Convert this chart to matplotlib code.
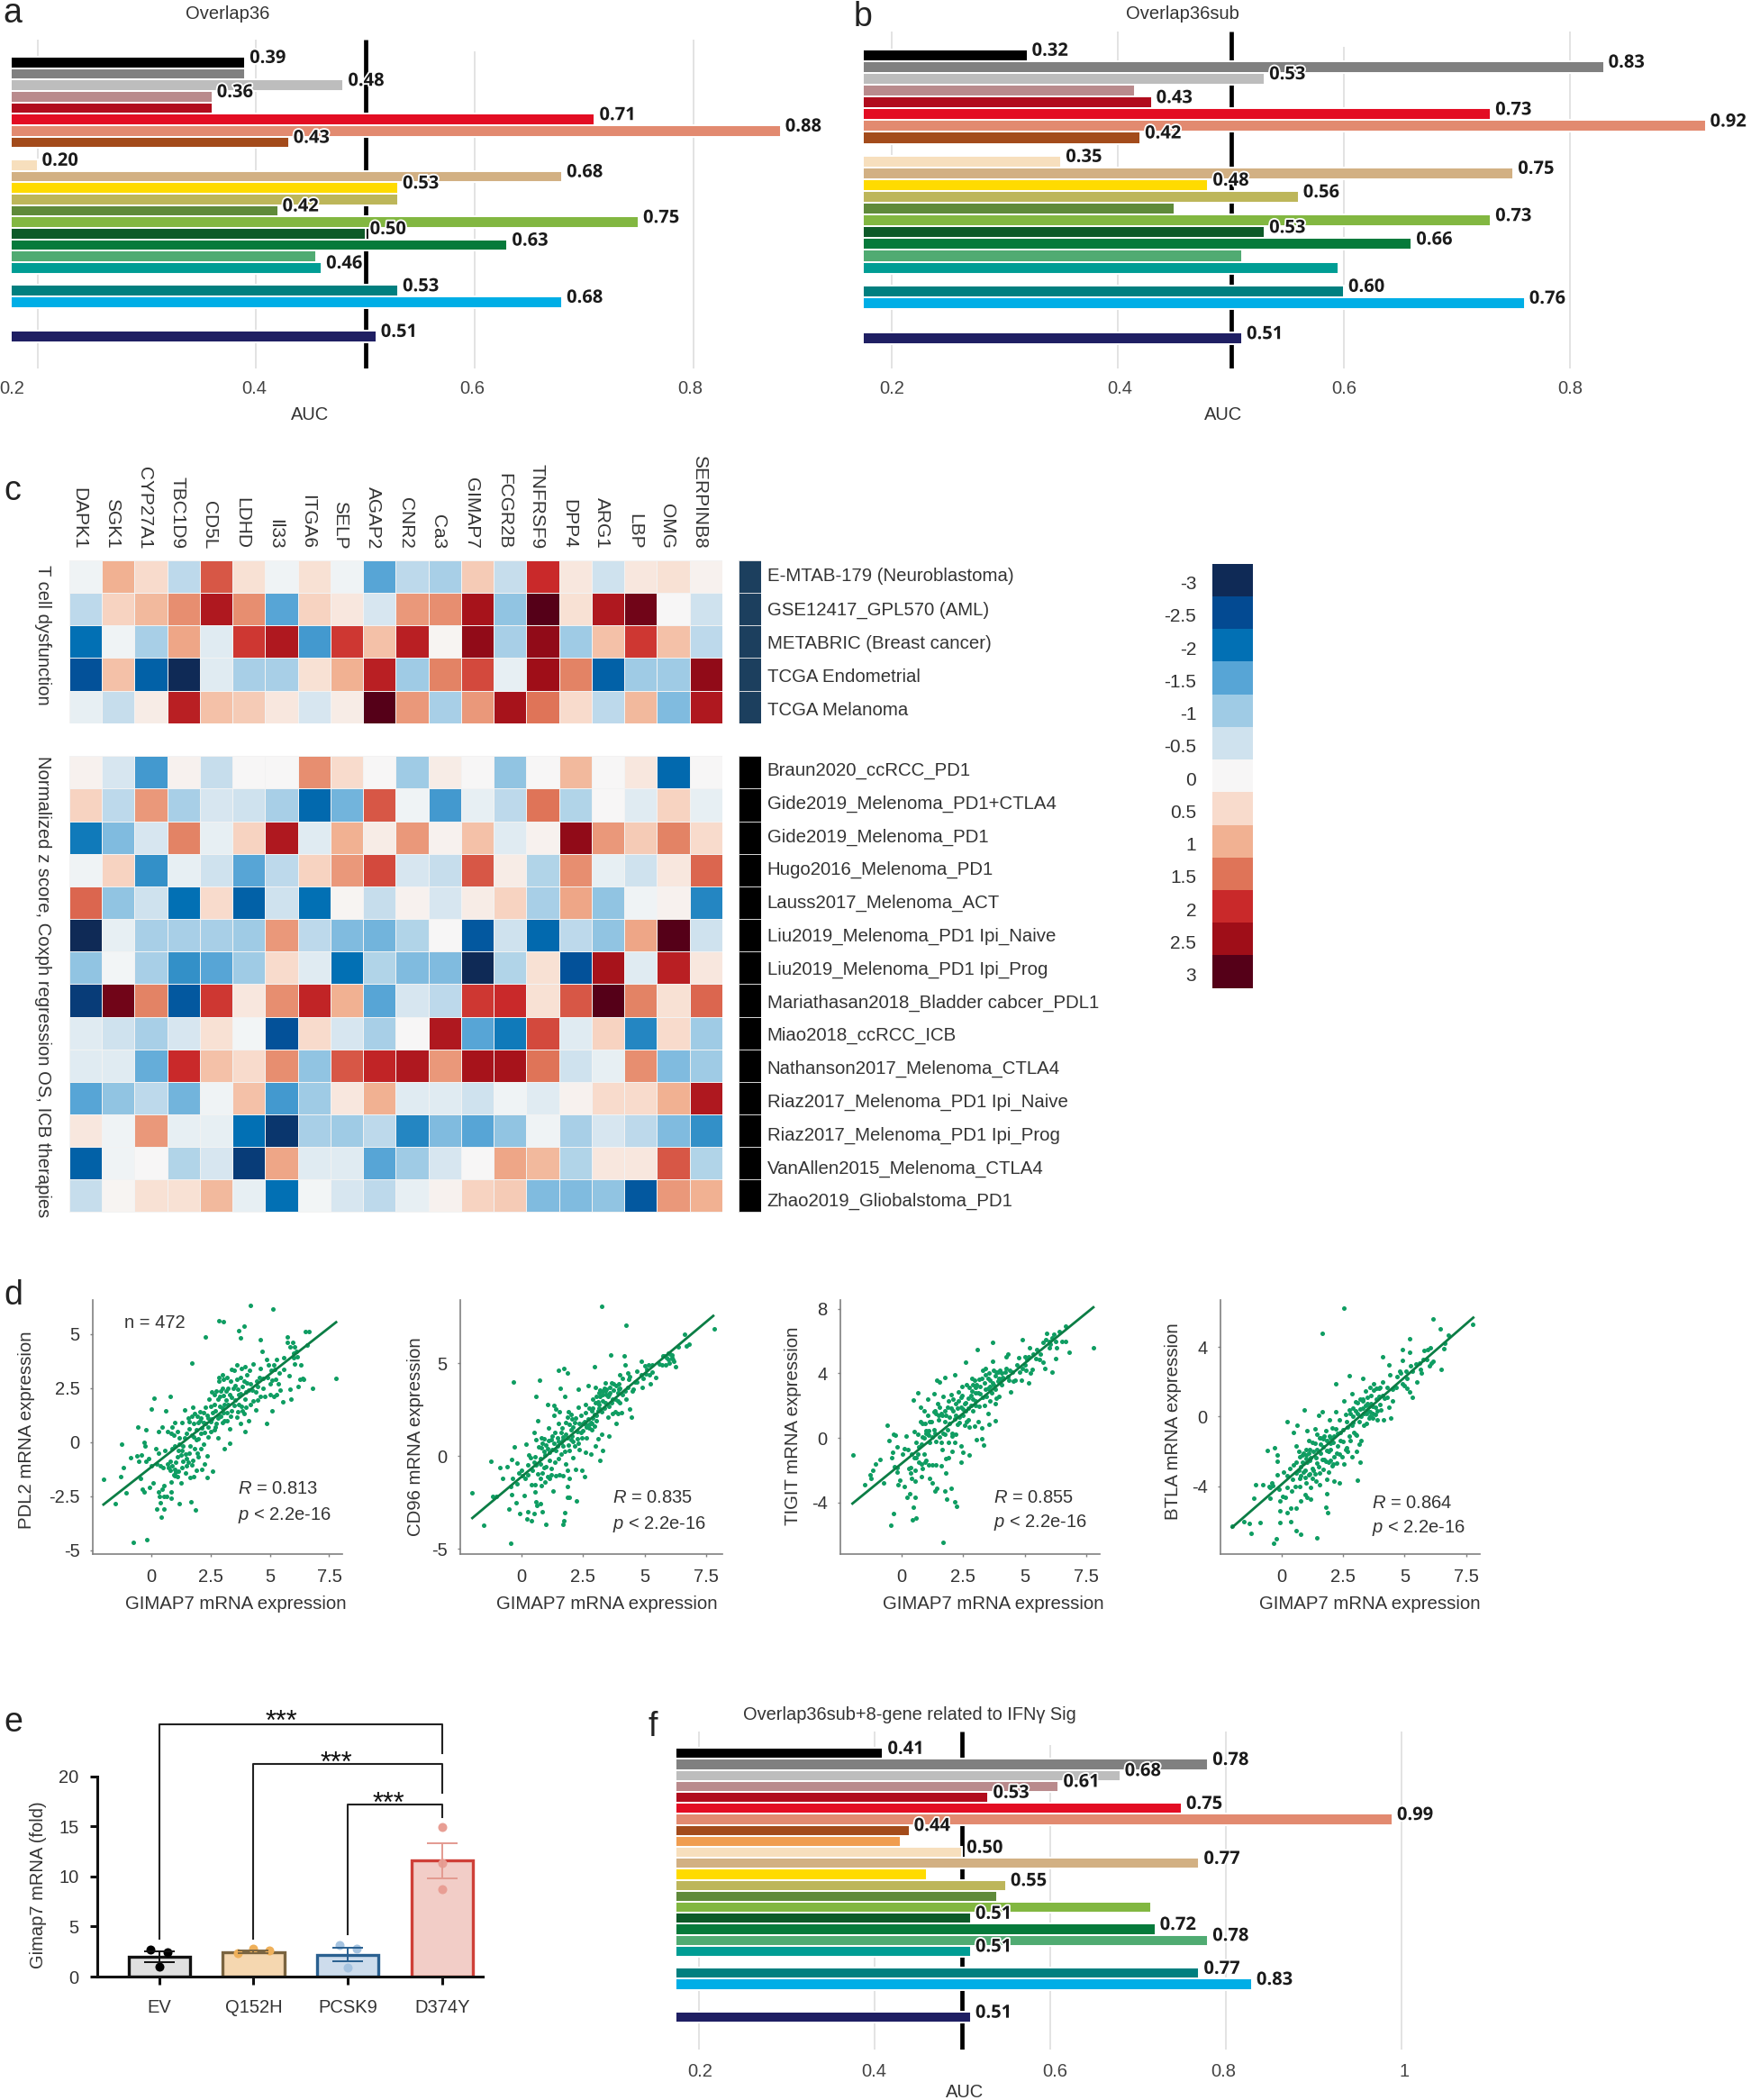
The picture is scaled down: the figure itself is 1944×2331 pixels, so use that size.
import numpy as np
import matplotlib
matplotlib.use('Agg')
import matplotlib.pyplot as plt
import matplotlib.patheffects as pe
from matplotlib.colors import LinearSegmentedColormap
from matplotlib.transforms import ScaledTranslation

plt.rcParams['font.family'] = ['Liberation Sans', 'DejaVu Sans']
plt.rcParams['mathtext.fontset'] = 'custom'
plt.rcParams['mathtext.it'] = 'Liberation Sans:italic'
plt.rcParams['mathtext.rm'] = 'Liberation Sans'

W, H = 1944, 2331
TXT = '#333333'

# AUC bars
rows_ab = [0, 1, 2, 3, 4, 5, 6, 7, 9, 10, 11, 12, 13, 14, 15, 16, 17, 18, 20, 21, 24]
rows_f = list(range(19)) + [20, 21, 24]
colors_ab = ['#000000', '#808080', '#bdbdbd', '#b98a8c', '#b10c1d', '#e30d23', '#e28a70', '#a34b1b',
             '#f7dfbd', '#d2b083', '#ffdb00', '#bdb65a', '#5f8a3a', '#82b741', '#0d5a28', '#067a3b',
             '#50ab72', '#009d94', '#007f7f', '#00aee6', '#1f1f63']
colors_f = colors_ab[:8] + ['#f09d50'] + colors_ab[8:]

auc_a = [0.39, 0.39, 0.48, 0.36, 0.36, 0.71, 0.88, 0.43, 0.20, 0.68, 0.53, 0.53, 0.42, 0.75, 0.50, 0.63,
         0.455, 0.46, 0.53, 0.68, 0.51]
labels_a = ['0.39', None, '0.48', '0.36', None, '0.71', '0.88', '0.43', '0.20', '0.68', '0.53', None, '0.42',
            '0.75', '0.50', '0.63', None, '0.46', '0.53', '0.68', '0.51']
auc_b = [0.32, 0.83, 0.53, 0.415, 0.43, 0.73, 0.92, 0.42, 0.35, 0.75, 0.48, 0.56, 0.45, 0.73, 0.53, 0.66,
         0.51, 0.595, 0.60, 0.76, 0.51]
labels_b = ['0.32', '0.83', '0.53', None, '0.43', '0.73', '0.92', '0.42', '0.35', '0.75', '0.48', '0.56', None,
            '0.73', '0.53', '0.66', None, None, '0.60', '0.76', '0.51']
auc_f = [0.41, 0.78, 0.68, 0.61, 0.53, 0.75, 0.99, 0.44, 0.43, 0.50, 0.77, 0.46, 0.55, 0.54, 0.715, 0.51,
         0.72, 0.78, 0.51, 0.77, 0.83, 0.51]
labels_f = ['0.41', '0.78', '0.68', '0.61', '0.53', '0.75', '0.99', '0.44', None, '0.50', '0.77', None, '0.55',
            None, None, '0.51', '0.72', '0.78', '0.51', '0.77', '0.83', '0.51']

# heatmap
genes = ['DAPK1', 'SGK1', 'CYP27A1', 'TBC1D9', 'CD5L', 'LDHD', 'Il33', 'ITGA6', 'SELP', 'AGAP2', 'CNR2', 'Ca3',
         'GIMAP7', 'FCGR2B', 'TNFRSF9', 'DPP4', 'ARG1', 'LBP', 'OMG', 'SERPINB8']
sets_top = ['E-MTAB-179 (Neuroblastoma)', 'GSE12417_GPL570 (AML)', 'METABRIC (Breast cancer)', 'TCGA Endometrial',
            'TCGA Melanoma']
sets_low = ['Braun2020_ccRCC_PD1', 'Gide2019_Melenoma_PD1+CTLA4', 'Gide2019_Melenoma_PD1', 'Hugo2016_Melenoma_PD1',
            'Lauss2017_Melenoma_ACT', 'Liu2019_Melenoma_PD1 Ipi_Naive', 'Liu2019_Melenoma_PD1 Ipi_Prog',
            'Mariathasan2018_Bladder cabcer_PDL1', 'Miao2018_ccRCC_ICB', 'Nathanson2017_Melenoma_CTLA4',
            'Riaz2017_Melenoma_PD1 Ipi_Naive', 'Riaz2017_Melenoma_PD1 Ipi_Prog', 'VanAllen2015_Melenoma_CTLA4',
            'Zhao2019_Gliobalstoma_PD1']
heat_top = [
    [-0.1, 1.0, 0.5, -0.7, 1.7, 0.4, -0.1, 0.4, -0.1, -1.5, -0.7, -0.9, 0.7, -0.6, 2.0, 0.3, -0.5, 0.3, 0.4, 0.1],
    [-0.7, 0.6, 0.9, 1.3, 2.3, 1.3, -1.5, 0.6, 0.3, -0.4, 1.2, 1.3, 2.4, -1.1, 3.0, 0.4, 2.3, 2.8, 0.0, -0.5],
    [-2.0, -0.1, -0.9, 1.1, -0.3, 1.9, 2.3, -1.6, 1.9, 0.8, 2.2, 0.05, 2.6, -0.9, 2.6, -1.0, 0.8, 1.9, 0.8, -0.7],
    [-2.4, 0.8, -2.2, -3.0, -0.3, -0.9, -0.9, 0.4, 1.0, 2.2, -1.0, 1.4, 1.8, -0.2, 2.5, 1.4, -2.2, -1.0, -1.0, 2.6],
    [-0.2, -0.6, 0.2, 2.2, 0.8, 0.7, 0.3, -0.4, 0.2, 3.0, 1.2, -0.9, 1.2, 2.4, 1.5, 0.5, -0.7, 0.9, -1.2, 2.3],
]
heat_low = [
    [0.1, -0.4, -1.6, 0.1, -0.6, 0, 0, 1.3, 0.5, 0, -1.0, 0.2, 0, -1.1, 0, 0.9, 0, 0.3, -2.1, 0],
    [0.6, -0.7, 1.2, -0.9, -0.4, -0.5, -0.9, -2.1, -1.3, 1.7, -0.1, -1.6, -0.2, -0.7, 1.5, -0.8, 0, -0.3, 0.6, -0.2],
    [-1.9, -1.2, -0.4, 1.4, -0.2, 0.6, 2.3, -0.3, 1.0, 0.2, 1.2, 0.1, 0.8, -0.3, 0.1, 2.6, 1.2, 0.7, 1.4, 0.5],
    [-0.1, 0.6, -1.7, -0.2, -0.5, -1.5, -0.7, 0.6, 1.2, 1.8, -0.4, -0.6, 1.7, 0.2, -0.8, 1.3, -0.2, -0.5, 0.3, 1.6],
    [1.6, -1.1, -0.5, -2.0, 0.5, -2.2, -0.5, -2.0, 0.05, -0.6, 0.1, -0.4, 0.2, 0.6, -0.9, 1.1, -1.1, -0.1, 0.1, -1.8],
    [-3.0, -0.2, -0.9, -0.9, -0.9, -1.0, 1.2, -0.7, -1.2, -1.3, -0.8, 0, -2.3, -0.5, -2.1, -0.7, -1.1, 1.1, 3.0, -0.5],
    [-1.1, -0.05, -0.9, -1.7, -1.5, -1.0, 0.5, -0.3, -2.0, -0.8, -1.2, -1.2, -3.0, -0.8, 0.4, -2.4, 2.4, -0.3, 2.2, 0.3],
    [-2.7, 2.8, 1.4, -2.3, 1.9, 0.3, 1.3, 2.1, 1.0, -1.5, -0.4, -0.7, 1.9, 2.0, 0.4, 1.7, 3.0, 1.4, 0.4, 1.6],
    [-0.3, -0.5, -0.9, -0.4, 0.4, -0.05, -2.4, 0.5, -0.4, -0.9, 0, 2.3, -1.5, -1.9, 1.8, -0.3, 0.6, -1.8, 0.5, -1.0],
    [-0.3, -0.3, -1.4, 2.0, 0.8, 0.5, 1.3, -1.1, 1.7, 2.1, 2.3, 1.2, 2.4, 2.4, 1.5, -0.5, -0.2, 1.3, -1.2, -1.0],
    [-1.5, -1.1, -0.7, -1.3, -0.1, 0.8, -1.6, -1.0, 0.3, 1.0, -0.3, -0.3, -0.5, -0.1, -0.3, 0.1, 0.5, 0.5, 1.0, 2.3],
    [0.3, -0.1, 1.2, -0.2, -0.2, -2.0, -2.8, -0.9, -1.0, -0.7, -1.8, -1.2, -1.5, -1.1, -0.1, -0.9, -0.4, -0.7, -1.2, -1.7],
    [-2.2, -0.1, 0, -0.8, -0.4, -2.7, 1.1, -0.3, -0.3, -1.5, -1.0, -0.4, 0, 1.1, 0.9, -0.8, 0.3, 0.3, 1.7, -0.8],
    [-0.6, 0.05, 0.4, 0.4, 0.9, -0.2, -2.0, -0.05, -0.4, -0.7, -0.2, 0.1, 0.6, 0.7, -1.2, -1.2, -1.1, -2.3, 1.2, 1.0],
]
scale_levels = [-3, -2.5, -2, -1.5, -1, -0.5, 0, 0.5, 1, 1.5, 2, 2.5, 3]
scale_labels = ['-3', '-2.5', '-2', '-1.5', '-1', '-0.5', '0', '0.5', '1', '1.5', '2', '2.5', '3']
scale_colors = ['#0f2a56', '#034a93', '#0271b5', '#56a5d6', '#9fcbe5', '#d0e2ee', '#f7f7f7',
                '#f8dccd', '#f1b192', '#e0775a', '#ca2a2a', '#a00e18', '#550018']

# scatter panels
pdl2_points = [(4.2, 6.3), (5.13, 6.14), (2.87, 5.6), (3.06, 5.57), (2.29, 4.88), (3.69, 5.15), (3.92, 5.35), (3.75, 4.82),
    (4.61, 4.75), (4.68, 4.19), (7.77, 2.94), (6.79, 2.49), (6.43, 2.92), (6.48, 5.11), (6.64, 5.12), (6.59, 4.47), (1.73, 3.67),
    (0.81, 2.11), (0.13, 2.03), (0.03, 1.53), (0.61, 1.43), (-0.57, 0.71), (-0.2, 0.57), (-1.23, -0.08), (-0.86, -0.71), (-1.15, -1.19),
    (-1.28, -1.61), (-2.0, -1.72), (-1.52, -2.86), (-1.04, -2.33), (-0.75, -4.65), (-0.16, -4.5), (0.43, -3.47), (0.24, -3.1), (0.54, -3.08),
    (1.88, -3.13), (1.68, -2.76), (1.2, -2.85), (0.38, -2.8), (-0.4, -0.6), (-0.3, 0.0), (-0.25, -0.2), (-0.6, -0.65), (-0.5, -0.9),
    (-0.45, -1.7), (-0.35, -2.2), (-0.3, -2.3), (-0.2, -0.9), (-0.1, -0.75), (0, -1.1), (-0.05, -2.1), (0.1, -1.9), (0.2, -0.3), (0.3, -0.5),
    (0.25, -1.0), (0.3, 0.5), (0.45, 0.7), (0.4, -1.1), (0.5, -1.2), (0.45, -2.2), (0.55, -2.0), (0.3, -2.3), (0.35, -2.5), (0.55, -2.5),
    (0.65, -2.5), (0.6, -0.4), (0.7, 0.5), (0.75, -1.2), (0.8, -1.3), (0.85, 0.4), (0.9, 0.7), (0.85, -1.85), (0.85, -2.3), (0.85, -2.6),
    (0.9, -0.3), (0.95, -1.5), (1.0, -0.2), (1.0, 0.9), (1.05, -1.4), (1.0, -1.55), (0.95, 0.3), (1.1, -0.7), (1.1, -1.6), (1.1, 0.5),
    (1.15, -0.4), (1.25, -0.6), (1.25, -1.9), (1.3, 0.9), (1.35, -0.9), (1.35, -0.2), (1.4, 1.5), (1.5, -0.75), (1.5, -1.1), (1.55, 1.1),
    (1.6, 0.6), (1.6, -0.5), (1.65, -1.65), (1.7, -1.05), (1.7, 0.3), (1.75, 1.6), (1.8, -1.6), (1.8, 0.85), (1.85, -0.3), (1.9, -1.3),
    (1.9, 0.1), (1.95, 1.2), (2.0, -0.7), (2.0, 0.9), (2.05, 1.0), (2.1, 0.4), (2.15, -1.25), (2.15, 0.65), (2.2, 1.35), (2.25, -1.0),
    (2.3, 0.85), (2.35, -0.65), (2.35, -1.65), (2.4, 0.25), (2.4, 1.1), (2.5, 1.65), (2.5, 0.5), (2.55, 1.05), (2.6, -1.35), (2.65, 0.55),
    (2.65, 2.2), (2.7, 1.45), (2.75, 0.85), (2.8, 2.0), (2.8, 0.2), (2.85, 1.2), (2.85, 3.0), (2.9, 1.65), (2.95, 2.35), (3.0, 0.9),
    (3.0, 1.55), (3.0, 3.1), (3.05, 2.15), (3.1, -0.3), (3.1, 1.0), (3.15, 1.95), (3.2, 3.0), (3.2, 1.35), (3.25, 2.5), (3.3, 0.6),
    (3.3, -0.05), (3.35, 1.2), (3.4, 3.35), (3.4, 2.05), (3.5, 1.7), (3.55, 2.6), (3.6, 3.55), (3.65, 1.4), (3.7, 2.2), (3.75, 3.0),
    (3.75, 0.85), (3.8, 1.65), (3.85, 2.55), (3.9, 1.3), (3.95, 0.5), (3.95, 3.5), (4.0, 2.3), (4.05, 2.75), (4.1, 1.0), (4.15, 3.3),
    (4.2, 1.75), (4.25, 2.4), (4.3, 3.6), (4.4, 1.5), (4.45, 2.8), (4.5, 1.95), (4.55, 3.0), (4.6, 2.1), (4.7, 2.5), (4.85, 0.85),
    (4.85, 3.8), (4.8, 2.1), (5.0, 2.7), (5.05, 3.3), (5.1, 1.45), (5.15, 2.1), (5.15, 3.55), (5.25, 2.9), (5.3, 3.8), (5.4, 3.2),
    (5.35, 2.7), (5.55, 1.85), (5.6, 3.9), (5.75, 4.85), (5.8, 3.05), (5.85, 2.45), (5.85, 4.4), (5.9, 2.0), (6.0, 3.9), (6.05, 3.6),
    (6.1, 4.2), (6.2, 2.55), (6.25, 2.9), (6.3, 3.55), (6.4, 2.95), (5.75, 4.6), (6.0, 4.1),
    (0.7, -1.0), (0.8, -0.9), (0.9, -1.1), (1.0, -1.25), (1.05, -0.95), (1.15, -1.35), (1.2, -0.1), (1.2, 0.2), (1.3, -1.2), (1.3, -0.4),
    (1.4, 0.2), (1.45, -1.45), (1.45, -0.55), (1.5, 0.4), (1.55, -0.95), (1.6, 0.95), (1.65, -0.2), (1.7, 1.2), (1.75, -0.85), (1.8, 0.25),
    (1.85, 1.3), (1.9, 0.55), (1.95, -0.5), (2.0, 0.15), (2.05, 1.4), (2.1, -0.3), (2.1, 1.1), (2.2, 0.9), (2.2, -0.1), (2.25, 0.45),
    (2.3, 1.6), (2.35, 1.25), (2.4, 0.7), (2.45, 2.0), (2.5, 0.95), (2.55, 2.3), (2.6, 1.35), (2.65, 1.75), (2.7, 0.7), (2.75, 2.35),
    (2.8, 1.1), (2.85, 2.8), (2.9, 2.1), (2.95, 1.2), (3.0, 2.5), (3.05, 1.35), (3.05, 2.9), (3.1, 1.75), (3.15, 2.35), (3.2, 1.0),
    (3.25, 1.75), (3.3, 2.2), (3.35, 2.8), (3.4, 1.45), (3.45, 2.5), (3.5, 3.3), (3.55, 1.95), (3.6, 1.15), (3.6, 2.9), (3.65, 2.45),
    (3.7, 1.75), (3.75, 2.25), (3.8, 3.4), (3.85, 1.45), (3.9, 2.8), (3.95, 2.0), (4.0, 1.6), (4.05, 3.1), (4.1, 2.4), (4.2, 2.7),
    (4.3, 1.9), (4.4, 2.3), (4.5, 2.55), (4.6, 3.4), (4.7, 2.95), (4.9, 3.0), (5.0, 2.2), (5.1, 2.85), (5.2, 3.35), (5.45, 2.4),
    (5.6, 3.35), (5.95, 4.6), (6.05, 4.4), (6.15, 3.95), (5.3, 2.2), (4.95, 3.55)]
cd96_points = [(3.24, 8.06), (4.23, 7.07), (7.82, 6.84), (6.62, 6.55), (6.8, 6.02), (6.68, 5.94), (6.38, 5.89), (3.63, 5.45),
    (4.18, 5.4), (2.96, 4.82), (1.5, 4.61), (1.71, 4.71), (1.87, 4.48), (-0.33, 4.0), (0.72, 4.08), (1.56, 3.66), (0.6, 3.22),
    (-1.24, -0.29), (-0.88, -0.63), (-0.6, -0.55), (-0.39, -0.19), (-0.18, -0.37), (-0.29, 0.52), (0.17, 0.63), (-0.77, -1.18),
    (-2.02, -1.99), (-1.18, -2.15), (-1.04, -2.15), (-1.54, -3.7), (-0.44, -4.68), (-0.51, -2.86), (-0.22, -2.48), (-0.09, -3.11),
    (0.23, -3.37), (0.41, -3.46), (0.24, -2.98), (0.5, -3.11), (0.83, -3.01), (1.0, -3.66), (1.74, -3.04), (1.72, -3.46), (1.68, -3.66),
    (2.24, -2.43), (1.87, -2.2), (1.93, -2.2), (0.77, -2.57), (0.57, -2.44), (0.61, -2.64), (1.28, -1.89), (1.87, -1.63), (0.55, -1.93),
    (0.1, -2.12), (-0.39, -2.09), (-0.45, -1.65), (-0.35, -1.2), (-0.2, -1.5), (-0.1, -0.9), (0, -0.75), (0.05, -1.05), (0.15, -1.2),
    (0.25, -0.45), (0.3, 0.05), (0.25, -1.0), (0.35, -0.1), (0.4, -1.55), (0.45, -0.75), (0.5, 1.3), (0.55, -1.55), (0.6, 0.9),
    (0.6, -0.45), (0.65, -0.95), (0.65, 1.9), (0.75, -0.15), (0.75, -1.2), (0.8, 1.0), (0.8, 0.45), (0.8, -1.6), (0.85, 0.7),
    (0.9, -0.6), (0.9, 0.25), (0.95, -1.4), (1.0, 0.6), (1.05, -1.1), (1.05, 2.8), (1.1, 1.5), (1.15, -0.2), (1.15, -1.2), (1.2, 0.9),
    (1.2, -0.65), (1.25, 0.35), (1.3, 2.2), (1.3, 2.75), (1.35, 1.3), (1.35, -0.3), (1.4, -1.05), (1.4, 2.55), (1.45, 0.55), (1.5, 1.75),
    (1.55, -1.0), (1.55, 2.4), (1.6, 0.75), (1.6, 1.3), (1.7, -1.05), (1.7, 0.55), (1.75, 3.2), (1.8, -0.4), (1.8, 1.8), (1.85, -0.75),
    (1.85, 1.0), (1.9, 2.4), (1.95, 0.3), (1.95, -1.2), (2.0, 1.45), (2.05, 2.0), (2.1, -0.1), (2.1, 0.8), (2.15, 1.8), (2.2, -0.7),
    (2.25, 0.95), (2.3, 3.6), (2.3, 2.65), (2.35, 0.35), (2.4, 1.3), (2.45, -0.75), (2.5, 1.75), (2.55, -1.1), (2.6, 0.2), (2.6, 2.8),
    (2.65, 1.0), (2.7, 3.8), (2.75, 1.7), (2.8, 0.1), (2.85, 1.45), (2.85, 2.45), (2.9, 3.1), (2.95, 1.6), (3.0, 0.55), (3.0, 3.7),
    (3.05, 1.9), (3.05, 2.2), (3.1, 0.95), (3.15, 2.8), (3.2, 3.2), (3.2, -0.2), (3.25, 1.2), (3.3, 3.5), (3.3, 0.3), (3.35, 2.6),
    (3.4, 3.95), (3.45, 3.3), (3.5, 2.1), (3.55, 1.1), (3.6, 3.7), (3.65, 2.9), (3.7, 2.3), (3.75, 3.9), (3.8, 3.1), (3.85, 1.75),
    (3.9, 2.3), (3.95, 3.6), (4.0, 4.4), (4.0, 2.9), (4.1, 3.3), (4.2, 4.9), (4.25, 3.1), (4.3, 4.5), (4.35, 4.15), (4.4, 2.55),
    (4.45, 2.1), (4.5, 3.5), (4.6, 4.0), (4.7, 4.6), (4.85, 5.1), (4.9, 3.7), (4.95, 4.2), (5.1, 4.7), (5.2, 4.4), (5.25, 3.9),
    (5.3, 4.9), (5.45, 4.25), (5.7, 4.9), (5.8, 5.4), (5.85, 4.9), (5.95, 5.2), (6.05, 5.5), (6.1, 5.3), (6.2, 5.1), (6.25, 4.8),
    (3.4, 3.5), (3.3, 3.0), (3.15, 3.4), (3.55, 3.3), (2.9, 2.05), (2.75, 1.5), (2.6, 1.7), (3.1, 2.45), (2.0, 0.9), (1.7, 1.05), (3.9, 3.4),
    (0.5, -0.3), (0.55, -0.05), (0.7, 0.5), (0.75, -0.4), (0.85, -0.9), (0.9, 0.95), (0.95, 0.05), (1.0, -0.55), (1.05, 0.4), (1.1, 0.85),
    (1.15, 0.2), (1.2, -1.0), (1.25, 1.1), (1.3, 0.7), (1.4, 0.3), (1.45, 1.0), (1.5, -0.15), (1.5, 0.8), (1.6, 0.1), (1.65, 1.5),
    (1.7, 0.9), (1.75, 0.25), (1.8, 1.2), (1.85, 2.1), (1.9, 0.6), (1.95, 1.7), (2.0, 2.25), (2.05, 1.1), (2.1, 1.55), (2.15, 0.55),
    (2.2, 2.05), (2.25, 1.35), (2.3, 0.7), (2.35, 1.75), (2.4, 2.2), (2.45, 1.0), (2.5, 1.4), (2.55, 1.85), (2.6, 2.35), (2.65, 1.55),
    (2.7, 2.0), (2.75, 2.6), (2.8, 1.8), (2.85, 1.75), (2.9, 2.6), (2.95, 2.25), (3.0, 2.9), (3.05, 3.2), (3.1, 2.95), (3.15, 2.6),
    (3.2, 3.55), (3.25, 2.4), (3.3, 3.3), (3.35, 3.65), (3.4, 2.9), (3.45, 3.6), (3.5, 3.2), (3.55, 2.7), (3.6, 3.4), (3.65, 3.95),
    (3.7, 3.1), (3.75, 3.55), (3.8, 2.4), (3.85, 3.8), (3.9, 3.0), (3.95, 3.9), (4.0, 3.65), (4.05, 2.35), (4.1, 4.2), (4.2, 3.5),
    (4.3, 3.7), (4.4, 4.3), (4.55, 3.6), (4.7, 4.0), (4.85, 4.4), (5.0, 4.85), (5.05, 4.45), (5.15, 4.9), (5.3, 4.55), (5.6, 4.95),
    (5.75, 5.4), (5.9, 5.3), (6.0, 5.0), (6.1, 5.45), (5.95, 5.55), (6.15, 5.2)]
tigit_points = [(7.79, 5.6), (6.79, 5.3), (6.65, 6.94), (3.68, 5.92), (3.07, 5.49), (4.9, 6.07), (-1.99, -1.06), (-0.59, 0.78),
    (-0.34, 0.2), (-0.26, 0.15), (-0.5, -0.15), (0.17, 0.13), (-0.2, -0.54), (-0.88, -1.34), (-1.05, -1.62), (-1.16, -1.99), (-1.28, -2.27),
    (-1.23, -2.49), (-1.51, -2.88), (-0.74, -2.81), (-0.34, -4.67), (-0.43, -5.43), (0.57, -4.99), (0.43, -5.1), (0.49, -4.28), (0.55, -3.7),
    (1.67, -6.49), (2.24, -4.22), (2.16, -3.96), (1.83, -3.8), (1.76, -3.29), (2.01, -3.14), (1.35, -3.29), (1.43, -3.14), (0.21, -3.7),
    (0.33, -3.44), (0.11, -3.01), (-0.16, -2.92), (-0.07, -2.64), (1.43, 3.55), (1.55, 3.46), (1.77, 3.74), (2.16, 3.9), (2.61, 4.7),
    (0.67, 2.81), (0.46, 2.33), (1.3, 2.73), (6.24, 4.93), (6.12, 4.06), (5.15, 3.4), (4.41, 2.87), (3.8, 1.06), (3.32, -0.45),
    (-0.3, -1.8), (-0.2, -1.85), (-0.2, -2.1), (-0.4, -1.2), (-0.35, -0.9), (0.1, -0.65), (0.05, -0.98), (0.25, -0.7), (0.3, -1.9),
    (0.35, -1.85), (0.35, -2.2), (0.4, -2.5), (0.4, -1.0), (0.5, 0.4), (0.55, -2.7), (0.55, -2.0), (0.6, -1.2), (0.65, 0.2), (0.7, -0.55),
    (0.75, 1.9), (0.75, 1.0), (0.8, -2.4), (0.8, -1.6), (0.85, 0.05), (0.85, -1.9), (0.9, 1.7), (0.9, -1.0), (0.95, 0.9), (1.0, 0.3),
    (1.0, -1.4), (1.05, 2.4), (1.05, 1.4), (1.1, -1.7), (1.1, 0.15), (1.15, -2.5), (1.15, -0.3), (1.2, 1.0), (1.25, -1.7), (1.25, -2.8),
    (1.3, 0.5), (1.35, 1.7), (1.4, -0.2), (1.4, -1.65), (1.45, 2.1), (1.5, 1.1), (1.55, 0.05), (1.6, -1.75), (1.6, 1.5), (1.65, -0.75),
    (1.7, 2.55), (1.75, 0.2), (1.75, 1.0), (1.8, -1.3), (1.8, -2.2), (1.85, 1.9), (1.9, -0.3), (1.9, -1.2), (1.95, 1.3), (2.0, 2.7),
    (2.05, 0.3), (2.05, -0.85), (2.1, 1.65), (2.15, -0.3), (2.2, 2.1), (2.25, 0.85), (2.3, 2.85), (2.35, 1.3), (2.4, -0.5), (2.4, -1.5),
    (2.45, 3.2), (2.5, -0.9), (2.5, 1.8), (2.55, 0.8), (2.6, 2.2), (2.65, 3.3), (2.7, 1.1), (2.75, 0.65), (2.75, -1.05), (2.8, 2.65),
    (2.85, 3.7), (2.9, 1.7), (2.95, 0.75), (3.0, 2.3), (3.0, 3.15), (3.05, -0.1), (3.1, 1.0), (3.15, 3.65), (3.2, 2.75), (3.25, 0.6),
    (3.25, -0.05), (3.3, 4.2), (3.35, 2.0), (3.4, 3.0), (3.5, 1.5), (3.5, 3.7), (3.55, 0.85), (3.6, 2.3), (3.7, 4.75), (3.75, 3.3),
    (3.8, 2.1), (3.85, 4.05), (3.9, 3.5), (3.95, 2.55), (4.0, 4.2), (4.05, 3.3), (4.15, 3.7), (4.25, 4.3), (4.25, 5.0), (4.3, 5.2),
    (4.35, 3.55), (4.5, 4.05), (4.6, 3.6), (4.75, 4.95), (4.85, 3.6), (4.9, 4.3), (5.0, 5.0), (5.1, 4.85), (5.2, 5.6), (5.25, 4.0),
    (5.3, 4.25), (5.5, 5.5), (5.6, 4.85), (5.75, 5.9), (5.75, 4.7), (5.8, 4.3), (5.9, 6.5), (6.0, 5.6), (6.1, 6.2), (6.2, 6.4),
    (6.4, 6.6), (6.5, 5.95), (6.65, 5.95), (3.6, 3.2), (3.4, 3.9), (3.0, 2.8), (2.7, 1.85), (2.4, 2.5), (3.8, 3.85), (2.2, 1.4), (2.9, 3.3),
    (0.5, -1.2), (0.6, -0.3), (0.65, -1.0), (0.7, -1.5), (0.8, -0.4), (0.85, 0.9), (0.9, 0.0), (0.95, -1.5), (1.0, 0.45), (1.05, 0.2),
    (1.1, 0.45), (1.15, 1.0), (1.25, 0.05), (1.3, 1.6), (1.35, 0.3), (1.4, 1.5), (1.5, 1.4), (1.55, 1.9), (1.6, -0.3), (1.65, 1.4),
    (1.7, 0.3), (1.75, 1.7), (1.8, 1.4), (1.85, 0.5), (1.9, 2.3), (1.95, 0.9), (2.0, 1.85), (2.05, 0.1), (2.1, 2.4), (2.15, 1.15),
    (2.2, 0.25), (2.25, 1.85), (2.3, 2.3), (2.35, 0.95), (2.4, 1.9), (2.45, 2.65), (2.5, 1.4), (2.55, 2.1), (2.6, 1.7), (2.65, 1.0),
    (2.7, 2.45), (2.75, 3.15), (2.8, 2.0), (2.85, 2.9), (2.9, 2.4), (2.95, 3.6), (3.0, 2.0), (3.05, 3.3), (3.1, 2.8), (3.15, 1.95),
    (3.2, 3.2), (3.25, 3.7), (3.3, 2.5), (3.35, 3.4), (3.4, 4.3), (3.45, 2.55), (3.5, 3.1), (3.55, 4.0), (3.6, 3.6), (3.65, 2.8),
    (3.7, 3.4), (3.75, 4.2), (3.8, 3.0), (3.85, 2.45), (3.9, 4.1), (3.95, 3.7), (4.0, 3.6), (4.05, 4.0), (4.1, 3.75), (4.2, 4.05),
    (4.3, 3.8), (4.4, 4.2), (4.55, 3.5), (4.7, 4.5), (4.8, 4.05), (5.0, 4.55), (5.05, 4.2), (5.15, 5.0), (5.35, 5.2), (5.45, 4.9),
    (5.65, 5.2), (5.85, 6.1), (6.0, 6.0), (6.05, 5.8), (6.25, 6.0), (6.3, 5.6)]
btla_points = [(2.54, 6.22), (1.65, 4.78), (6.16, 5.62), (7.77, 5.33), (6.44, 5.05), (6.79, 4.69), (5.21, 4.47), (4.9, 3.84),
    (5.21, 3.72), (4.11, 3.45), (4.35, 2.98), (4.9, 3.24), (2.76, 2.34), (3.3, 2.22), (2.2, 1.86), (0.93, 0.38), (0.24, -0.31), (0.63, -0.52),
    (0.48, -0.91), (-0.57, -1.95), (-0.28, -1.81), (-0.17, -2.22), (-0.16, -2.57), (-0.16, -3.36), (-1.04, -3.93), (-0.76, -3.93), (-1.13, -4.71),
    (-1.98, -6.28), (-1.52, -6.03), (-1.29, -6.16), (-1.23, -6.72), (-0.85, -6.09), (-0.32, -7.28), (-0.21, -7.02), (-0.06, -6.1), (0.38, -6.02),
    (0.59, -6.55), (0.8, -6.78), (1.44, -7.0), (-0.06, -5.43), (0.24, -5.52), (0.39, -5.26), (0.6, -5.26), (1.88, -5.52), (1.82, -5.21), (1.85, -4.45),
    (0.78, -4.83), (1.18, -4.74), (0.95, -4.5), (1.05, -4.65), (6.49, 2.72), (5.3, 1.12), (3.07, -3.67), (-0.5, -4.0), (-0.45, -4.1), (-0.4, -3.8),
    (-0.35, -3.95), (-0.45, -4.7), (-0.1, -4.2), (-0.05, -4.85), (0.05, -4.6), (0.15, -4.65), (0.1, -3.2), (0.25, -3.4), (0.35, -3.0), (0.25, -4.1),
    (0.4, -4.3), (0.45, -3.6), (0.5, -2.8), (0.55, -4.0), (0.6, -1.7), (0.6, -2.6), (0.7, -2.0), (0.7, -3.1), (0.75, -4.0), (0.8, -3.4),
    (0.85, -2.2), (0.9, -2.7), (0.95, -3.5), (1.0, -1.9), (1.0, -2.4), (1.05, -0.8), (1.1, -1.4), (1.15, -3.3), (1.15, -2.5), (1.2, -4.1),
    (1.25, -1.5), (1.25, -3.0), (1.3, -2.0), (1.35, -0.7), (1.4, -3.7), (1.45, -1.0), (1.45, -2.65), (1.5, 0.05), (1.55, -1.2), (1.55, -3.25),
    (1.6, -2.1), (1.65, 0.3), (1.7, -1.3), (1.7, -3.05), (1.75, -2.45), (1.8, -0.8), (1.85, -1.4), (1.85, -3.6), (1.9, -2.0), (1.9, -3.2),
    (1.95, -0.2), (2.0, -1.55), (2.0, -2.5), (2.05, -0.65), (2.1, -2.75), (2.15, -1.1), (2.15, -3.7), (2.2, 0.3), (2.25, -2.1), (2.3, -1.7),
    (2.35, -0.2), (2.35, -3.8), (2.4, -0.9), (2.45, -2.3), (2.5, -1.45), (2.55, 0.9), (2.55, -2.75), (2.6, 0.1), (2.65, -1.8), (2.7, -0.6),
    (2.75, 0.4), (2.8, -1.4), (2.85, 1.3), (2.85, -2.3), (2.9, -0.35), (3.0, 0.85), (3.0, -1.0), (3.05, -2.0), (3.1, 0.2), (3.15, -1.6),
    (3.2, 1.0), (3.2, -2.6), (3.25, -1.4), (3.3, 0.5), (3.35, -0.5), (3.4, 1.45), (3.45, 0.15), (3.5, 0.75), (3.55, -0.1), (3.6, 0.3),
    (3.65, 1.2), (3.7, 0.6), (3.75, 1.9), (3.8, 0.1), (3.85, 1.0), (3.9, -0.2), (3.95, 1.6), (4.0, 0.7), (4.1, 2.0), (4.15, -0.2),
    (4.2, 1.05), (4.3, 1.7), (4.35, 0.55), (4.4, 2.4), (4.45, -0.1), (4.5, 0.9), (4.65, 1.7), (4.8, 2.6), (4.9, 1.9), (5.05, 2.6),
    (5.1, 1.6), (5.2, 1.4), (5.25, 2.9), (5.5, 2.0), (5.6, 3.1), (5.7, 2.5), (5.8, 3.8), (5.9, 3.3), (6.0, 2.9), (6.05, 3.95),
    (6.15, 3.2), (6.6, 3.9), (6.65, 4.2), (3.5, 0.4), (3.3, 1.0), (3.7, 0.2), (2.9, 0.0), (3.6, 1.7), (2.0, -1.9), (1.6, -1.6), (1.1, -2.1),
    (0.75, -2.3), (0.8, -2.9), (0.85, -2.6), (0.9, -2.1), (0.95, -3.1), (1.0, -2.2), (1.05, -2.6), (1.1, -3.35), (1.15, -1.9), (1.2, -2.35),
    (1.3, -3.1), (1.35, -1.55), (1.4, -2.35), (1.45, -1.9), (1.5, -2.9), (1.6, -1.2), (1.65, -2.45), (1.7, -1.75), (1.75, -1.1), (1.8, -2.55),
    (1.85, -1.95), (1.9, -2.6), (1.95, -1.1), (2.0, -1.25), (2.05, -2.85), (2.1, -1.5), (2.15, -2.3), (2.2, -0.7), (2.25, -2.7), (2.3, -0.95),
    (2.35, -2.15), (2.4, -1.4), (2.5, -0.75), (2.6, -1.9), (2.65, -0.3), (2.7, -2.0), (2.75, -1.1), (2.8, 0.2), (2.85, -0.5), (2.9, 0.5),
    (2.95, -0.9), (3.0, 0.35), (3.05, -1.05), (3.1, 0.8), (3.15, -0.3), (3.2, 0.45), (3.25, 0.0), (3.3, 0.9), (3.35, 0.2), (3.4, 0.65),
    (3.45, -0.4), (3.5, 1.1), (3.55, 0.6), (3.6, 0.0), (3.65, 0.75), (3.7, -0.1), (3.75, 1.5), (3.8, 0.55), (3.85, 1.6), (3.9, 0.35),
    (3.95, 1.15), (4.0, 1.7), (4.05, 0.4), (4.1, 1.2), (4.3, 1.1), (4.5, 1.55), (4.7, 2.3), (4.85, 2.5), (5.0, 1.8), (5.1, 2.2),
    (5.3, 2.6), (5.45, 3.0), (5.65, 2.7), (5.75, 3.3), (5.95, 3.85), (6.1, 3.1), (1.25, -3.55), (0.75, -3.55), (0.6, -3.25), (1.0, -3.8),
    (1.55, -3.9), (1.35, -3.3), (0.9, -3.2)]
fit_x = [-2.0, 7.79]
fit_pdl2 = [-2.89, 5.54]
fit_cd96 = [-3.33, 7.56]
fit_tigit = [-4.07, 8.09]
fit_btla = [-6.38, 5.69]

# qPCR bars
lines_e = ['EV', 'Q152H', 'PCSK9', 'D374Y']
mean_e = [1.95, 2.45, 2.2, 11.6]
err_e = [0.53, 0.12, 0.7, 1.76]
reps_e = [[2.68, 1.02, 2.41], [2.35, 2.75, 2.6], [3.16, 0.87, 2.77], [14.9, 11.35, 8.76]]
rep_spread = [0.09, 0.17, 0.09, 0.0]


def add_ax(left, top, right, bottom):
    return fig.add_axes([left / W, 1 - bottom / H, (right - left) / W, (bottom - top) / H])


def put(x, y, s, **kw):
    kw.setdefault('ha', 'center')
    kw.setdefault('va', 'center')
    kw.setdefault('color', TXT)
    return fig.text(x / W, 1 - y / H, s, **kw)


def shift_label(label, ax_fig, dx_px):
    label.set_transform(label.get_transform() + ScaledTranslation(dx_px / 100, 0, ax_fig.dpi_scale_trans))


def auc_panel(box, x_bar, x_02, px_02, row0, step, rows, vals, labels, colors, ticks, shifts, short_top, pad):
    left, top, right, bottom = box
    ax = add_ax(x_bar, top, right, bottom)
    ax.set_xlim(0.2 + (x_bar - x_02) / px_02 * 0.2, 0.2 + (right - x_02) / px_02 * 0.2)
    ax.set_ylim((bottom - row0) / step, (top - row0) / step)
    for t in ticks:
        t_top = (short_top - row0) / step if t == 0.6 else (top - row0) / step
        ax.vlines(t, t_top, (bottom - row0) / step, color='#e3e3e3', lw=1.4, zorder=0)
    ax.vlines(0.5, (top - row0) / step, (bottom - row0) / step, color='black', lw=3.4, zorder=1)
    x0 = ax.get_xlim()[0]
    ax.barh(rows, np.array(vals) - x0, left=x0, height=1.0, color=colors, edgecolor='white', linewidth=1.4, zorder=2)
    for r, v, lab in zip(rows, vals, labels):
        if lab is None:
            continue
        ax.annotate(lab, xy=(v, r), xytext=(3.6, 3.2), textcoords='offset points', ha='left', va='center',
                    fontsize=14.5, fontweight='bold', family='Open Sans', color='#1a1a1a', zorder=3,
                    path_effects=[pe.withStroke(linewidth=2.6, foreground='white')], annotation_clip=False)
    ax.set_xticks(ticks)
    ax.set_xticklabels([('%g' % t) for t in ticks], fontsize=14.5, color='#444444')
    ax.tick_params(axis='x', length=0, pad=pad)
    for lb, dx in zip(ax.get_xticklabels(), shifts):
        shift_label(lb, fig, dx)
    ax.set_yticks([])
    for s in ax.spines.values():
        s.set_visible(False)
    ax.patch.set_alpha(0)
    return ax


fig = plt.figure(figsize=(W / 100, H / 100), dpi=100, facecolor='white')

# panel a, b, f
auc_panel((12, 44, 960, 409), 12.2, 41.6, 242.7, 69.3, 12.67, rows_ab, auc_a, labels_a, colors_ab,
          [0.2, 0.4, 0.6, 0.8], [-28, -2, -3, -3], 57, 9.5)
auc_panel((957, 35, 1940, 409), 957.6, 990, 251, 61.3, 13.1, rows_ab, auc_b, labels_b, colors_ab,
          [0.2, 0.4, 0.6, 0.8], [0, 2, 0, 0], 52, 9.5)
auc_panel((750, 1921.7, 1620, 2274.7), 749.9, 775.7, 195, 1946.3, 12.2, rows_f, auc_f, labels_f, colors_f,
          [0.2, 0.4, 0.6, 0.8, 1], [1, 0, 6, -2, 3], 1937, 11)
put(253, 15.5, 'Overlap36', fontsize=14.5)
put(344, 460, 'AUC', fontsize=14.5)
put(1313, 15.5, 'Overlap36sub', fontsize=14.5)
put(1358, 461, 'AUC', fontsize=14.5)
put(1010, 1903.5, 'Overlap36sub+8-gene related to IFNγ Sig', fontsize=14.4)
put(1071, 2322, 'AUC', fontsize=14.5)

# panel letters
for lx, ly, letter in [(3, 25, 'a'), (948, 29, 'b'), (4, 555, 'c'), (4, 1448, 'd'), (4, 1922, 'e'), (720, 1927, 'f')]:
    put(lx, ly, letter, fontsize=27, ha='left', va='baseline', color='#222222')

# panel c
cmap_z = LinearSegmentedColormap.from_list('zscore', [((v + 3) / 6, c) for v, c in zip(scale_levels, scale_colors)])
ax_top = add_ax(76.8, 621.7, 802, 802.7)
ax_low = add_ax(76.8, 839.3, 802, 1345.5)
for ax, vals in [(ax_top, heat_top), (ax_low, heat_low)]:
    ax.pcolormesh(np.array(vals), cmap=cmap_z, vmin=-3, vmax=3, edgecolors='#f2f2f2', linewidth=0.5)
    ax.invert_yaxis()
    ax.set_xticks([])
    ax.set_yticks([])
    for s in ax.spines.values():
        s.set_visible(False)
ax_top.xaxis.tick_top()
ax_top.set_xticks(np.arange(len(genes)) + 0.5)
ax_top.set_xticklabels(genes, rotation=270, ha='center', va='bottom', fontsize=15, color=TXT)
ax_top.tick_params(axis='x', length=0, pad=9)
for lb in ax_top.get_xticklabels():
    shift_label(lb, fig, -7)

side_top = add_ax(820, 621.7, 845, 802.7)
side_low = add_ax(820, 839.3, 845, 1345.5)
for ax, names, col, spread in [(side_top, sets_top, '#1c3f5e', 1.03), (side_low, sets_low, '#000000', 1.018)]:
    n = len(names)
    ax.barh(np.arange(n), 1, height=1, color=col, edgecolor='#e8e8e8', linewidth=0.6)
    ax.set_xlim(0, 1)
    ax.set_ylim(n - 0.5, -0.5)
    ax.set_xticks([])
    ax.yaxis.tick_right()
    ax.set_yticks((n - 1) / 2 + (np.arange(n) - (n - 1) / 2) * spread)
    ax.set_yticklabels(names, fontsize=14.7, color=TXT)
    ax.tick_params(axis='y', length=0, pad=4.8)
    for s in ax.spines.values():
        s.set_visible(False)
put(47, 704.5, 'T cell dysfunction', rotation=270, fontsize=14.5)
put(47, 1095.5, 'Normalized z score, Coxph regression OS, ICB therapies', rotation=270, fontsize=14.6)

ax_scale = add_ax(1345.7, 625.7, 1391, 1096.7)
ax_scale.pcolormesh(np.array(scale_levels).reshape(-1, 1), cmap=cmap_z, vmin=-3, vmax=3)
ax_scale.invert_yaxis()
ax_scale.set_xticks([])
ax_scale.set_yticks(np.arange(13) + 0.58)
ax_scale.set_yticklabels(scale_labels, fontsize=15, color=TXT)
ax_scale.tick_params(axis='y', length=0, pad=12.5)
for s in ax_scale.spines.values():
    s.set_visible(False)

# panel d
scatter_panels = [
    (pdl2_points, fit_pdl2, 'PDL2 mRNA expression', [5, 2.5, 0, -2.5, -5], ['5', '2.5', '0', '-2.5', '-5'],
     (103.3, 380), (-2.44, 8.05), (-5.18, 6.58), (262, 29.5, 1587), '0.813', (264, 1653, 1682)),
    (cd96_points, fit_cd96, 'CD96 mRNA expression', [5, 0, -5], ['5', '0', '-5'],
     (511, 801.7), (-2.49, 8.15), (-5.27, 8.43), (674, 461, 1595), '0.835', (680, 1663, 1692)),
    (tigit_points, fit_tigit, 'TIGIT mRNA expression', [8, 4, 0, -4], ['8', '4', '0', '-4'],
     (933.3, 1220.7), (-2.48, 8.04), (-7.2, 8.56), (1103, 880, 1583), '0.855', (1103, 1662, 1690)),
    (btla_points, fit_btla, 'BTLA mRNA expression', [4, 0, -4], ['4', '0', '-4'],
     (1355.3, 1643.3), (-2.46, 8.07), (-7.91, 6.72), (1521, 1302, 1578), '0.864', (1523, 1668, 1696)),
]
x_ticks_d = [0, 2.5, 5, 7.5]
for pts, fit, ylab, yt, ytl, xspan, xl, yl, lab_pos, r_val, r_pos in scatter_panels:
    ax = add_ax(xspan[0], 1442.7, xspan[1], 1725)
    px, py = zip(*pts)
    ax.scatter(px, py, s=13, color='#0f9d62', linewidths=0, zorder=2)
    ax.plot(fit_x, fit, color='#0b7d45', lw=2.0, zorder=3)
    ax.set_xlim(xl)
    ax.set_ylim(yl)
    ax.set_xticks(x_ticks_d)
    ax.set_xticklabels(['0', '2.5', '5', '7.5'], fontsize=14.5, color=TXT)
    ax.set_yticks(yt)
    ax.set_yticklabels(ytl, fontsize=14.5, color=TXT)
    ax.tick_params(length=2.5, width=1, color='#808080')
    ax.tick_params(axis='x', pad=9)
    ax.tick_params(axis='y', pad=8)
    ax.spines['top'].set_visible(False)
    ax.spines['right'].set_visible(False)
    for sp in ['left', 'bottom']:
        ax.spines[sp].set_color('#808080')
        ax.spines[sp].set_linewidth(1.2)
    ax.patch.set_alpha(0)
    put(lab_pos[0], 1781, 'GIMAP7 mRNA expression', fontsize=14.7)
    put(lab_pos[1], lab_pos[2], ylab, rotation=90, fontsize=14.7)
    put(r_pos[0], r_pos[1], r'$\mathit{R}$ = ' + r_val, ha='left', fontsize=14.5)
    put(r_pos[0], r_pos[2], r'$\mathit{p}$ < 2.2e-16', ha='left', fontsize=14.5)
put(138, 1468, 'n = 472', ha='left', fontsize=14.5)

# panel e
edge_e = ['#111111', '#7a6440', '#2a6090', '#cf4038']
fill_e = ['#e0e0e0', '#f5d7b0', '#cddcec', '#f2cdc7']
dot_e = ['#000000', '#efb05a', '#a5c3e0', '#e89e94']
errc_e = ['#111111', '#7a6440', '#2a6090', '#e39a90']
ax = add_ax(108.3, 1971.7, 535.8, 2194)
pos = np.arange(4)
ax.bar(pos, mean_e, width=0.65, color=fill_e, edgecolor=edge_e, linewidth=2.4, zorder=2)
for i in range(4):
    ax.scatter(pos[i] + np.array([-1, 0, 1]) * rep_spread[i], reps_e[i], s=52, color=dot_e[i], linewidths=0, zorder=3)
    ax.errorbar(pos[i], mean_e[i], yerr=err_e[i], color=errc_e[i], capsize=12.5, lw=1.4, capthick=1.4, zorder=4)
ax.set_xlim(-0.655, 3.43)
ax.set_ylim(0, 20)
ax.set_xticks(pos)
ax.set_xticklabels(lines_e, fontsize=14.5, color=TXT)
for lb, dx in zip(ax.get_xticklabels(), [2, 4, -1, 14]):
    shift_label(lb, fig, dx)
ax.set_yticks([0, 5, 10, 15, 20])
ax.set_yticklabels(['0', '5', '10', '15', '20'], fontsize=14.5, color=TXT)
ax.tick_params(axis='x', length=6.2, width=2.2, pad=12, color='#111111')
ax.tick_params(axis='y', length=5.8, width=2.2, pad=9, color='#111111')
ax.spines['top'].set_visible(False)
ax.spines['right'].set_visible(False)
ax.spines['left'].set_linewidth(2.2)
ax.spines['bottom'].set_linewidth(2.2)
ax.spines['left'].set_color('#111111')
ax.spines['bottom'].set_color('#111111')
ax.patch.set_alpha(0)
# significance brackets
for i0, y_top, y_l, y_r in [(0, 25.2, 3.8, 22.3), (1, 21.2, 3.8, 18.36), (2, 17.2, 4.26, 15.96)]:
    ax.plot([i0, i0, 3, 3], [y_l, y_top, y_top, y_r], color='#222222', lw=1.5, clip_on=False, zorder=5)
put(312, 1912, '***', fontsize=22, color='#111111')
put(373, 1958, '***', fontsize=22, color='#111111')
put(431.7, 2003, '***', fontsize=22, color='#111111')
put(43, 2092.5, 'Gimap7 mRNA (fold)', rotation=90, fontsize=14.5)

fig.savefig('out.png', dpi=100, facecolor='white')
